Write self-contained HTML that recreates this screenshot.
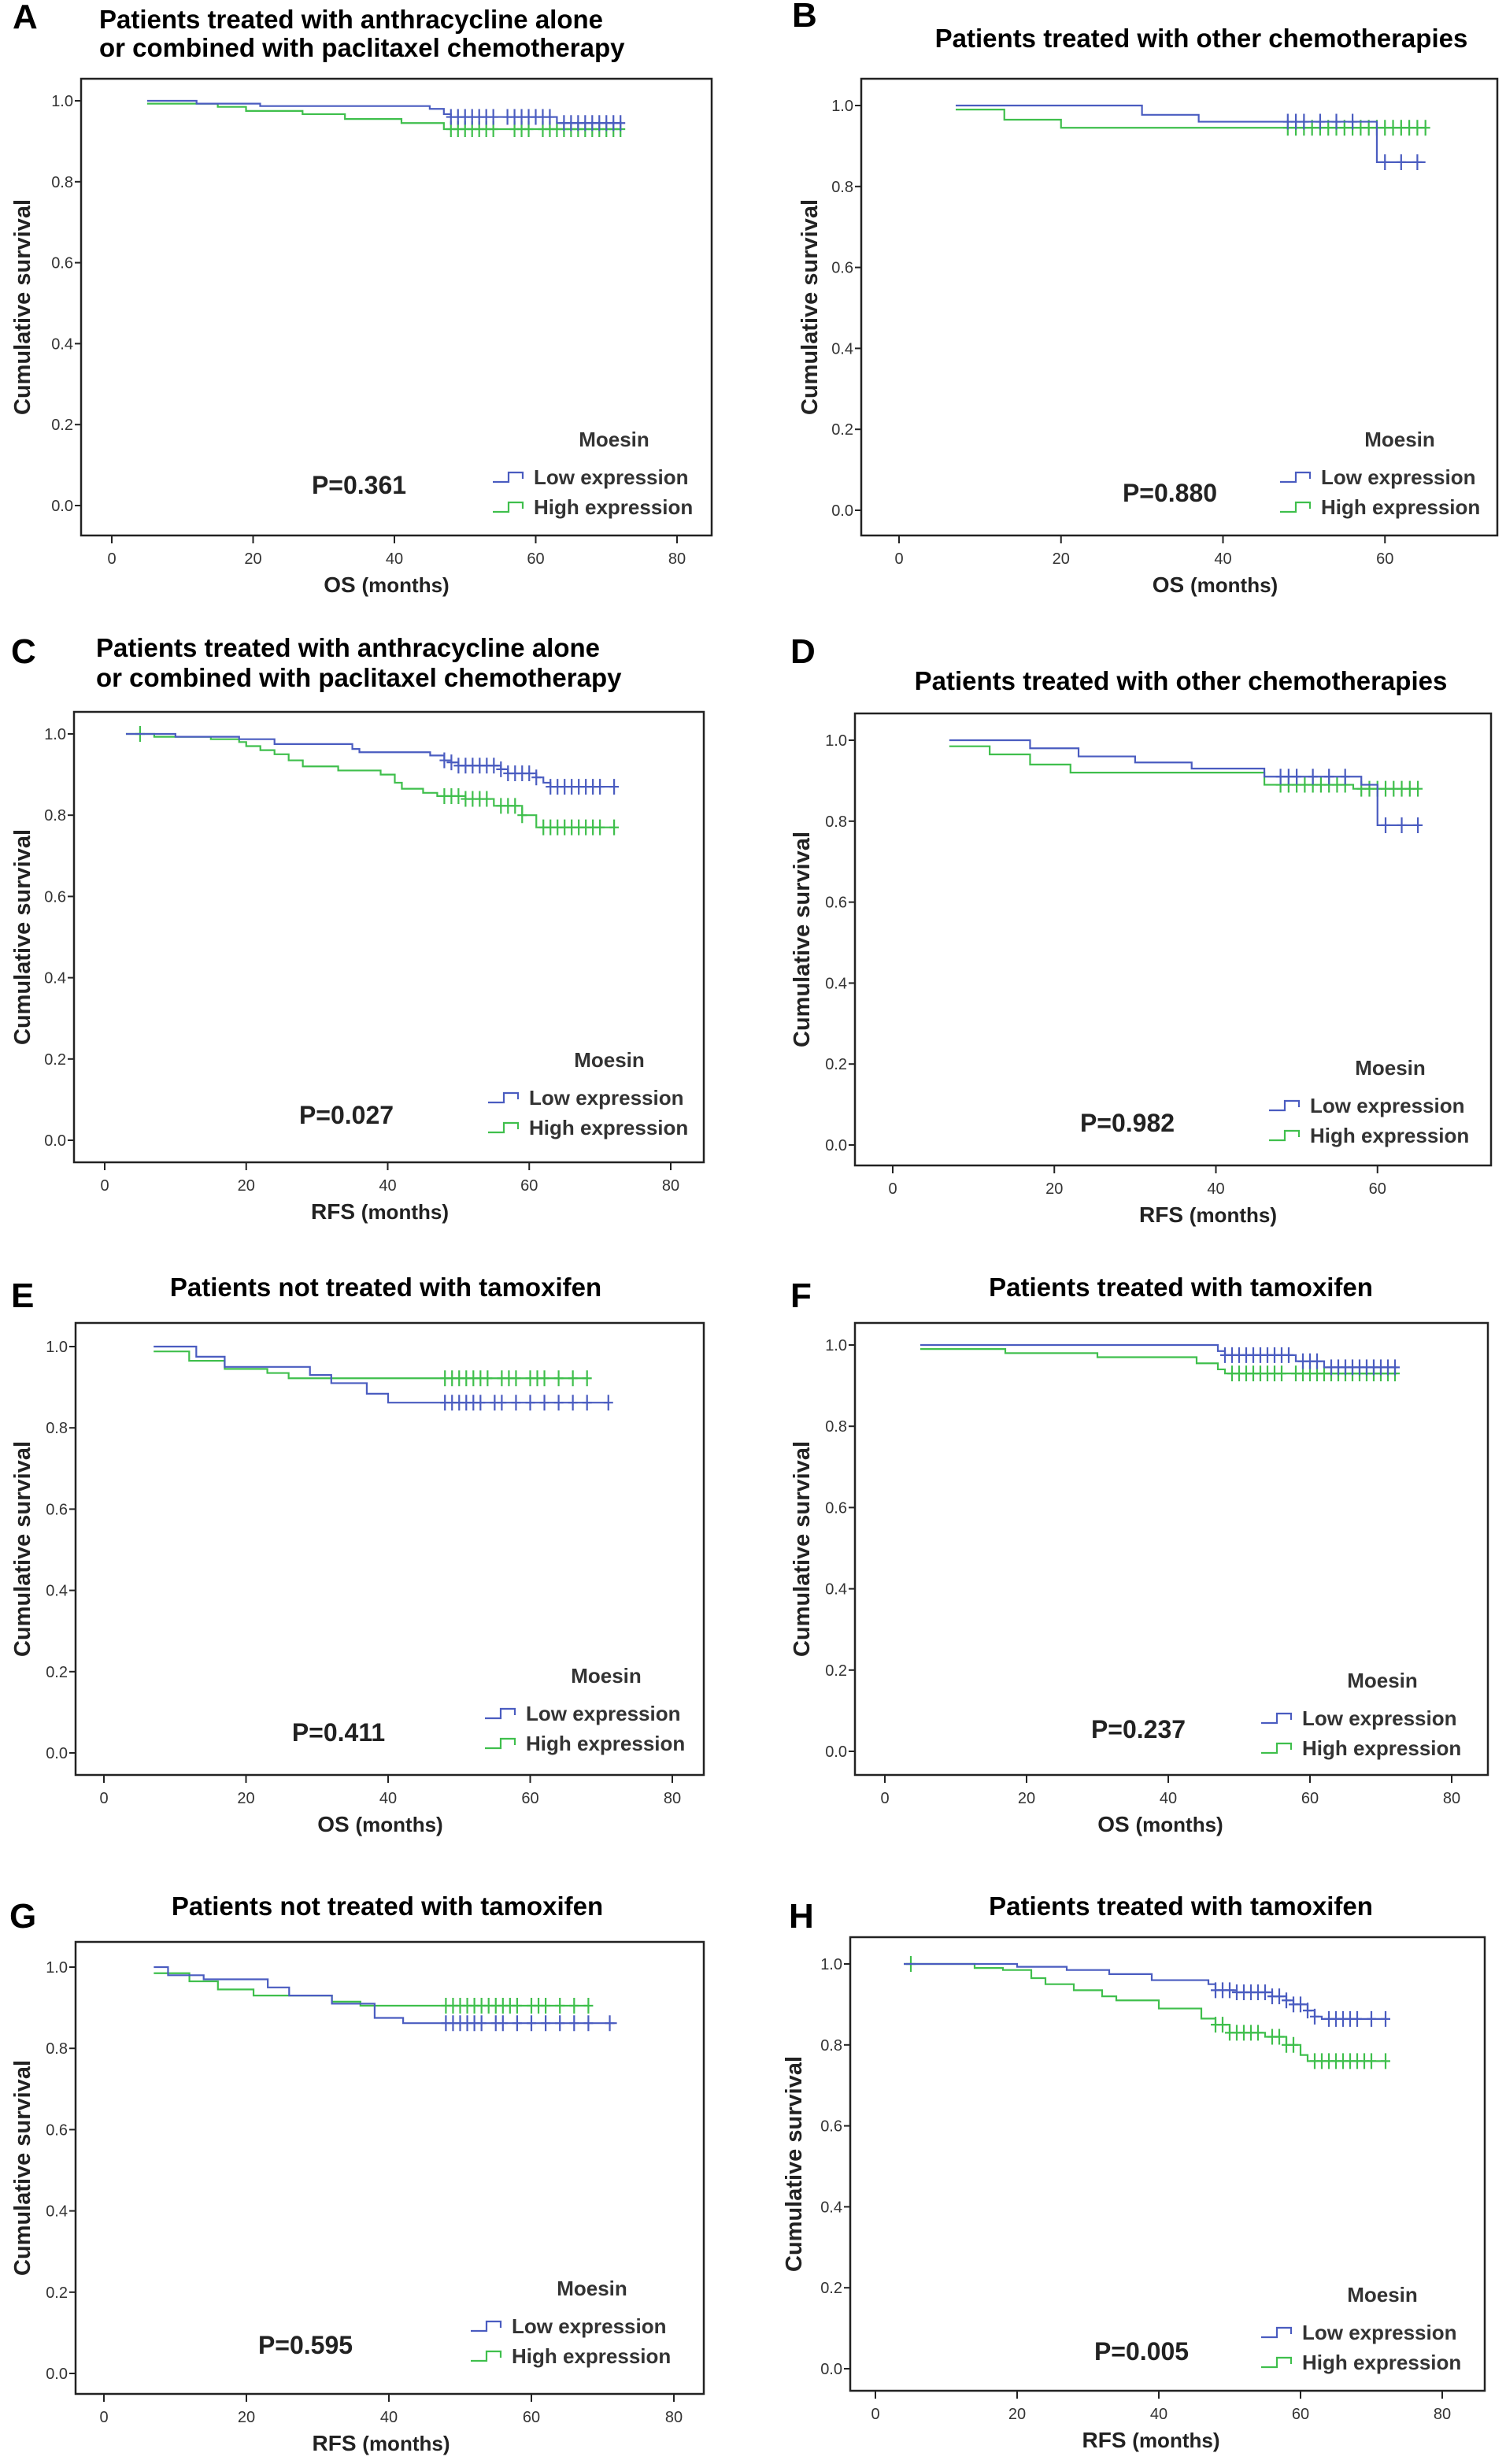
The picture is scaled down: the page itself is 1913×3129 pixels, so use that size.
<!DOCTYPE html>
<html><head><meta charset="utf-8">
<style>
html,body{margin:0;padding:0;background:#fff;}
svg{display:block;font-family:"Liberation Sans",Arial,sans-serif;}
</style></head>
<body>
<svg id="fig" width="1913" height="3129" viewBox="0 0 1913 3129" xmlns="http://www.w3.org/2000/svg"></svg>
<script>
// ---- data (time in months, survival after step) ----
const aLowT=[12,21,45,47,48,63], aLowS=[0.993,0.987,0.98,0.967,0.96,0.945], aLowC=[48,49,50,51,52,53,54,56,57,58,59,60,61,62,64,65,66,67,68,69,70,71,72];
const aHighT=[15,19,27,33,41,47], aHighS=[0.985,0.975,0.967,0.955,0.945,0.93], aHighC=[48,49,50,51,52,53,54,57,58,59,61,62,63,64,65,66,67,68,69,70,71,72];
const bLowT=[30,37,59], bLowS=[0.977,0.96,0.86], bLowC=[48,49,50,52,54,56,60,62,64];
const bHighT=[13,20], bHighS=[0.965,0.945], bHighC=[48,49,50,51,52,53,54,55,56,57,58,59,60,61,62,63,64,65];
const cLowT=[10,19,24,35,36,46,48,49,50,56,57,61,62,63], cLowS=[0.993,0.987,0.975,0.963,0.955,0.947,0.935,0.93,0.922,0.913,0.903,0.893,0.88,0.87], cLowC=[48,49,50,51,52,53,54,55,56,57,58,59,60,61,63,64,65,66,67,68,69,70,72];
const cHighT=[7,15,19,20,22,24,26,28,33,39,41,42,45,47,51,55,59,61], cHighS=[0.993,0.987,0.98,0.97,0.96,0.95,0.935,0.92,0.91,0.9,0.88,0.865,0.855,0.847,0.84,0.823,0.8,0.77], cHighC=[5,48,49,50,51,52,53,54,56,57,58,59,62,63,64,65,66,67,68,69,70,72];
const dLowT=[17,23,30,37,46,58,60], dLowS=[0.98,0.96,0.945,0.93,0.91,0.89,0.79], dLowC=[48,49,50,52,54,56,61,63,65];
const dHighT=[12,17,22,46,57], dHighS=[0.965,0.94,0.92,0.89,0.88], dHighC=[48,49,50,51,52,53,54,55,56,58,59,60,61,62,63,64,65];
const eLowT=[13,17,29,32,37,40], eLowS=[0.975,0.95,0.93,0.91,0.884,0.862], eLowC=[48,49,50,51,52,53,55,56,58,60,62,64,66,68,71];
const eHighT=[12,17,23,26], eHighS=[0.965,0.945,0.935,0.922], eHighC=[48,49,50,51,52,53,54,56,57,58,60,61,62,64,66,68];
const fLowT=[47,48,58,62], fLowS=[0.985,0.975,0.96,0.945], fLowC=[48,49,50,51,52,53,54,55,56,57,59,60,61,63,64,65,66,67,68,69,70,71,72];
const fHighT=[17,30,44,47,48], fHighS=[0.98,0.97,0.955,0.94,0.93], fHighC=[49,50,51,52,53,54,55,56,58,59,60,61,62,63,64,65,66,67,68,69,70,71,72];
const gLowT=[9,14,23,26,32,38,42], gLowS=[0.98,0.97,0.95,0.93,0.91,0.875,0.862], gLowC=[48,49,50,51,52,53,55,56,58,60,62,64,66,68,71];
const gHighT=[12,16,21,32,36], gHighS=[0.965,0.945,0.93,0.915,0.905], gHighC=[48,49,50,51,52,53,54,55,56,57,58,60,61,62,64,66,68];
const hLowT=[20,27,33,39,47,48,51,56,58,59,61,62,63], hLowS=[0.993,0.985,0.975,0.96,0.95,0.935,0.93,0.92,0.91,0.9,0.885,0.87,0.864], hLowC=[48,49,50,51,52,53,54,55,56,57,58,59,60,61,62,64,65,66,67,68,70,72];
const hHighT=[14,18,22,24,28,32,34,40,46,48,50,55,58,60,61], hHighS=[0.99,0.985,0.965,0.95,0.935,0.92,0.91,0.89,0.865,0.85,0.83,0.82,0.8,0.775,0.76], hHighC=[5,48,49,50,51,52,53,54,56,57,58,59,62,63,64,65,66,67,68,69,70,72];
const yTicks=["0.0","0.2","0.4","0.6","0.8","1.0"];
const xTicksFull=["0","20","40","60","80"];
const xTicksShort=["0","20","40","60"];

// ---- layout (positions only) ----
const panels=[
 {id:"a",L:"A",lx:16,ly:36,title:["Patients treated with anthracycline alone","or combined with paclitaxel chemotherapy"],tx:126,ty:[26,62],anchor:"start",box:[103,100,904,680],y1:128,y0:642,x0:142,x80:860,xt:xTicksFull,xl:"OS",start:5,s0:[1,0.993],endL:72,endH:72,p:"P=0.361",px:456,py:616,mx:780,my:558,lgx:626,lgy:[606,644],ylx:28,low:[aLowT,aLowS,aLowC],high:[aHighT,aHighS,aHighC]},
 {id:"b",L:"B",lx:1006,ly:34,title:["Patients treated with other chemotherapies"],tx:1526,ty:[50],anchor:"middle",box:[1094,100,1902,680],y1:134,y0:648,x0:1142,x80:1965,xt:xTicksShort,xl:"OS",start:7,s0:[1,0.99],endL:65,endH:65,p:"P=0.880",px:1486,py:626,mx:1778,my:558,lgx:1626,lgy:[606,644],ylx:1028,low:[bLowT,bLowS,bLowC],high:[bHighT,bHighS,bHighC]},
 {id:"c",L:"C",lx:14,ly:842,title:["Patients treated with anthracycline alone","or combined with paclitaxel chemotherapy"],tx:122,ty:[824,862],anchor:"start",box:[94,904,894,1476],y1:932,y0:1448,x0:133,x80:852,xt:xTicksFull,xl:"RFS",start:3,s0:[1,1],endL:72,endH:72,p:"P=0.027",px:440,py:1416,mx:774,my:1346,lgx:620,lgy:[1394,1432],ylx:28,low:[cLowT,cLowS,cLowC],high:[cHighT,cHighS,cHighC]},
 {id:"d",L:"D",lx:1004,ly:842,title:["Patients treated with other chemotherapies"],tx:1500,ty:[866],anchor:"middle",box:[1086,906,1894,1480],y1:940,y0:1454,x0:1134,x80:1955,xt:xTicksShort,xl:"RFS",start:7,s0:[1,0.985],endL:65,endH:65,p:"P=0.982",px:1432,py:1426,mx:1766,my:1356,lgx:1612,lgy:[1404,1442],ylx:1018,low:[dLowT,dLowS,dLowC],high:[dHighT,dHighS,dHighC]},
 {id:"e",L:"E",lx:14,ly:1660,title:["Patients not treated with tamoxifen"],tx:490,ty:[1636],anchor:"middle",box:[96,1680,894,2254],y1:1710,y0:2226,x0:132,x80:854,xt:xTicksFull,xl:"OS",start:7,s0:[1,0.988],endL:71,endH:68,p:"P=0.411",px:430,py:2200,mx:770,my:2128,lgx:616,lgy:[2176,2214],ylx:28,low:[eLowT,eLowS,eLowC],high:[eHighT,eHighS,eHighC]},
 {id:"f",L:"F",lx:1004,ly:1660,title:["Patients treated with tamoxifen"],tx:1500,ty:[1636],anchor:"middle",box:[1086,1680,1890,2254],y1:1708,y0:2224,x0:1124,x80:1844,xt:xTicksFull,xl:"OS",start:5,s0:[1,0.99],endL:72,endH:72,p:"P=0.237",px:1446,py:2196,mx:1756,my:2134,lgx:1602,lgy:[2182,2220],ylx:1018,low:[fLowT,fLowS,fLowC],high:[fHighT,fHighS,fHighC]},
 {id:"g",L:"G",lx:12,ly:2448,title:["Patients not treated with tamoxifen"],tx:492,ty:[2422],anchor:"middle",box:[96,2466,894,3040],y1:2498,y0:3014,x0:132,x80:856,xt:xTicksFull,xl:"RFS",start:7,s0:[1,0.985],endL:72,endH:68,p:"P=0.595",px:388,py:2978,mx:752,my:2906,lgx:598,lgy:[2954,2992],ylx:28,low:[gLowT,gLowS,gLowC],high:[gHighT,gHighS,gHighC]},
 {id:"h",L:"H",lx:1002,ly:2448,title:["Patients treated with tamoxifen"],tx:1500,ty:[2422],anchor:"middle",box:[1080,2460,1886,3036],y1:2494,y0:3008,x0:1112,x80:1832,xt:xTicksFull,xl:"RFS",start:4,s0:[1,1],endL:72,endH:72,p:"P=0.005",px:1450,py:2986,mx:1756,my:2914,lgx:1602,lgy:[2962,3000],ylx:1008,low:[hLowT,hLowS,hLowC],high:[hHighT,hHighS,hHighC]}
];
const LOW="#4a5cc0", HIGH="#3fbf4c";
const NS="http://www.w3.org/2000/svg";
const svg=document.getElementById('fig');
function mk(tag,attrs,parent,text){const e=document.createElementNS(NS,tag);for(const k in attrs)e.setAttribute(k,attrs[k]);if(text!==undefined)e.textContent=text;parent.appendChild(e);return e;}

panels.forEach(P=>{
 const g=mk('g',{},svg);
 
 
 const X=t=>P.x0+(P.x80-P.x0)*t/80;
 const Y=s=>P.y0+(P.y1-P.y0)*s;
 let e=mk('text',{x:P.lx,y:P.ly,'font-size':44,'font-weight':'bold',fill:'#000'},g,P.L);
  
 P.title.forEach((t,i)=>{const te=mk('text',{x:P.tx,y:P.ty[i]+10,'font-size':33,'font-weight':'bold','text-anchor':P.anchor,fill:'#000'},g,t);
   });
 const [bl,bt,br,bb]=P.box;
 e=mk('rect',{x:bl,y:bt,width:br-bl,height:bb-bt,fill:'none',stroke:'#222','stroke-width':2.5},g);
  
 yTicks.forEach(v=>{const yy=Y(parseFloat(v));
  const tl=mk('line',{x1:bl-8,x2:bl,y1:yy,y2:yy,stroke:'#222','stroke-width':2},g);
   
  const tt=mk('text',{x:bl-10,y:yy+7,'font-size':20,'text-anchor':'end',fill:'#333'},g,v);
   });
 P.xt.forEach(v=>{const xx=X(parseFloat(v));
  const tl=mk('line',{x1:xx,x2:xx,y1:bb,y2:bb+10,stroke:'#222','stroke-width':2},g);
   
  const tt=mk('text',{x:xx,y:bb+36,'font-size':20,'text-anchor':'middle',fill:'#333'},g,v);
   });
 const xlab=mk('text',{x:(X(0)+X(80))/2-10,y:bb+72,'font-size':28,'font-weight':'bold','text-anchor':'middle',fill:'#222'},g);
 mk('tspan',{},xlab,P.xl+' '); mk('tspan',{'font-size':26},xlab,'(months)');
  
 const cy=(bt+bb)/2;
 const ylab=mk('text',{x:P.ylx,y:cy,'font-size':29,'font-weight':'bold','text-anchor':'middle',fill:'#222',transform:`rotate(-90 ${P.ylx} ${cy})`,dy:10},g,'Cumulative survival');
  
 [[P.high,HIGH,P.s0[1],P.endH,'high-expression'],[P.low,LOW,P.s0[0],P.endL,'low-expression']].forEach(([d,col,s0,end,nm])=>{
  const [T,S,C]=d; let s=s0; let path=`M${X(P.start)},${Y(s)}`;
  T.forEach((t,i)=>{path+=` H${X(t)} V${Y(S[i])}`; s=S[i];});
  path+=` H${X(end)}`;
  const pe=mk('path',{d:path,fill:'none',stroke:col,'stroke-width':2.2},g);
   
  C.forEach(c=>{let sv=s0;T.forEach((t,i)=>{if(t<=c)sv=S[i];});
   const cx=X(c),yy=Y(sv);
   const cm=mk('path',{d:`M${cx},${yy-10} V${yy+10} M${cx-6},${yy} H${cx+6}`,stroke:col,'stroke-width':2.2,fill:'none'},g);
    });
 });
 e=mk('text',{x:P.px,y:P.py+11,'font-size':32,'font-weight':'bold','text-anchor':'middle',fill:'#222'},g,P.p);
  
 e=mk('text',{x:P.mx,y:P.my+9,'font-size':26,'font-weight':'bold','text-anchor':'middle',fill:'#333'},g,'Moesin');
  
 [['Low expression',LOW,'legend-entry-low'],['High expression',HIGH,'legend-entry-high']].forEach(([lab,col,nm],i)=>{
  const yy=P.lgy[i]; const x=P.lgx;
  const lg=mk('g',{},g);
   
  mk('path',{d:`M${x},${yy+6} H${x+20} V${yy-6} H${x+38} V${yy+2}`,fill:'none',stroke:col,'stroke-width':2.2},lg);
  mk('text',{x:x+52,y:yy+9,'font-size':26,'font-weight':'bold',fill:'#333'},lg,lab);
 });
});
</script>
</body></html>
